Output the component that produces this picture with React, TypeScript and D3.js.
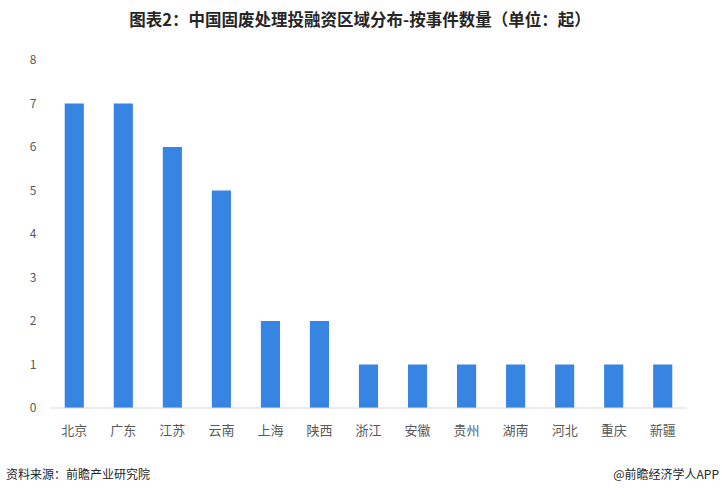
import * as d3 from 'd3';
import { useEffect, useRef } from 'react';

const regions = ['北京', '广东', '江苏', '云南', '上海', '陕西', '浙江', '安徽', '贵州', '湖南', '河北', '重庆', '新疆'];
const counts = [7, 7, 6, 5, 2, 2, 1, 1, 1, 1, 1, 1, 1];
const yTicks = [0, 1, 2, 3, 4, 5, 6, 7, 8];

const App = () => {
  const ref = useRef<SVGSVGElement>(null);

  useEffect(() => {
    const svg = d3.select(ref.current);
    svg.selectAll('*').remove();

    const W = 722, H = 496;
    const margin = { top: 60, right: 35, bottom: 88, left: 50 };
    const width = W - margin.left - margin.right;
    const height = H - margin.top - margin.bottom;
    const font = '"Noto Sans CJK SC", sans-serif';

    svg.append('rect').attr('width', W).attr('height', H).attr('fill', '#fff');

    svg.append('text')
      .attr('x', 360).attr('y', 26)
      .attr('text-anchor', 'middle')
      .attr('font-family', font)
      .attr('font-size', 16.5)
      .attr('font-weight', 'bold')
      .attr('fill', '#262626')
      .text('图表2：中国固废处理投融资区域分布-按事件数量（单位：起）');

    const chart = svg.append('g').attr('transform', `translate(${margin.left},${margin.top})`);

    const x = d3.scaleBand().domain(regions).range([0, width]).paddingInner(0.61).paddingOuter(0.3);
    const y = d3.scaleLinear().domain([0, 8]).range([height, 0]);

    chart.selectAll('.bar')
      .data(counts)
      .enter()
      .append('rect')
      .attr('x', (d, i) => x(regions[i])!)
      .attr('y', d => y(d))
      .attr('width', x.bandwidth())
      .attr('height', d => height - y(d))
      .attr('fill', '#3784e3');

    chart.append('line')
      .attr('x1', 0).attr('x2', width)
      .attr('y1', height).attr('y2', height)
      .attr('stroke', '#d9d9d9');

    chart.selectAll('.ytick')
      .data(yTicks)
      .enter()
      .append('text')
      .attr('x', -17).attr('y', d => y(d))
      .attr('dy', '0.35em')
      .attr('text-anchor', 'middle')
      .attr('font-family', font)
      .attr('font-size', 12)
      .attr('fill', '#595959')
      .text(d => d);

    chart.selectAll('.xtick')
      .data(regions)
      .enter()
      .append('text')
      .attr('x', d => x(d)! + x.bandwidth() / 2)
      .attr('y', height + 27)
      .attr('text-anchor', 'middle')
      .attr('font-family', font)
      .attr('font-size', 13)
      .attr('fill', '#595959')
      .text(d => d);

    svg.append('text')
      .attr('x', 6).attr('y', 479)
      .attr('font-family', font)
      .attr('font-size', 12)
      .attr('fill', '#262626')
      .text('资料来源：前瞻产业研究院');

    svg.append('text')
      .attr('x', 719).attr('y', 479)
      .attr('text-anchor', 'end')
      .attr('font-family', font)
      .attr('font-size', 12)
      .attr('fill', '#262626')
      .text('@前瞻经济学人APP');
  }, []);

  return <svg ref={ref} width={722} height={496} style={{ display: 'block', position: 'absolute', left: 0, top: 0 }}></svg>;
};

export default App;
